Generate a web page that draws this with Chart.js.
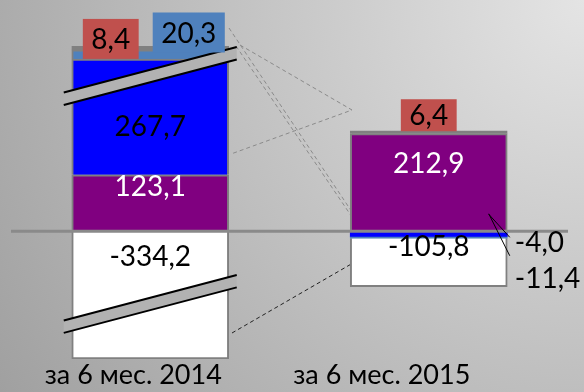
<!DOCTYPE html>
<html>
<head>
<meta charset="utf-8">
<script src="https://cdn.jsdelivr.net/npm/chart.js@4/dist/chart.umd.min.js"></script>
<style>
  html, body { margin: 0; padding: 0; }
  #wrap {
    width: 584px; height: 392px;
    background: radial-gradient(circle farthest-corner at 100% 0%, #e4e4e4 0%, #a0a0a0 100%);
  }
</style>
</head>
<body>
<div id="wrap"><canvas id="myChart" width="584" height="392"></canvas></div>
<script>
var periods = ['за 6 мес. 2014', 'за 6 мес. 2015'];
var purpleVals = [123.1, 212.9];
var blueVals = [267.7, -11.4];
var steelVals = [20.3, -4.0];
var grayVals = [8.4, 6.4];
var whiteVals = [-334.2, -105.8];

// value ranges cut out of the axis (drawn as breaks on the tall bar)
var axisBreaks = [[-214, -159], [339, 354]];
// category captions sit a little left of their columns
var tickShift = [-17, -47];

function squeeze(v) {
    var out = v;
    axisBreaks.forEach(function(b) {
        var lo = b[0], hi = b[1], w = hi - lo;
        if (lo >= 0) {
            if (v >= hi) out -= w;
            else if (v > lo) out -= v - lo;
        } else {
            if (v <= lo) out += w;
            else if (v < hi) out += hi - v;
        }
    });
    return out;
}

function unsqueeze(c) {
    var v = c;
    axisBreaks.forEach(function(b) {
        var lo = b[0], hi = b[1], w = hi - lo;
        if (lo >= 0 && c > lo) v += w;
        if (hi <= 0 && c < hi) v -= w;
    });
    return v;
}

class BrokenLinearScale extends Chart.LinearScale {
    getPixelForValue(value) {
        if (value === null || value === undefined) return NaN;
        var lo = squeeze(this.min), hi = squeeze(this.max);
        return this.getPixelForDecimal((squeeze(value) - lo) / (hi - lo));
    }
    getValueForPixel(pixel) {
        var lo = squeeze(this.min), hi = squeeze(this.max);
        return unsqueeze(lo + this.getDecimalForPixel(pixel) * (hi - lo));
    }
}
BrokenLinearScale.id = 'brokenLinear';

class NudgedCategoryScale extends Chart.CategoryScale {
    getPixelForTick(index) {
        return super.getPixelForTick(index) + (tickShift[index] || 0);
    }
}
NudgedCategoryScale.id = 'nudgedCategory';

Chart.register(BrokenLinearScale, NudgedCategoryScale);

var allSeries = [purpleVals, blueVals, steelVals, grayVals, whiteVals];
var stackTop = periods.map(function(p, i) {
    return allSeries.reduce(function(t, s) { return t + Math.max(s[i], 0); }, 0);
});
var stackBottom = periods.map(function(p, i) {
    return allSeries.reduce(function(t, s) { return t + Math.min(s[i], 0); }, 0);
});

function fmt(v) {
    return v.toFixed(1).replace('.', ',');
}

// where each value text sits, relative to the middle of its segment
var labelSpots = [
    [{ dy: -17, color: '#fff' }, { dy: -19, color: '#fff' }],
    [{ dy: 9 }, { dx: 86, dy: 44, align: 'left', leader: [60, -20, 81, 22] }],
    [{ dx: 38.5, dy: -22, box: '#4F81BD' }, { dx: 86, dy: 5, align: 'left', leader: [60, -23, 81, 0] }],
    [{ dx: -39.5, dy: -9, box: '#C0504D' }, { dy: -17, box: '#C0504D', boxH: 32 }],
    [{ dy: -39 }, { dy: -16 }]
];

var valueLabels = {
    id: 'valueLabels',
    afterDatasetsDraw: function(chart) {
        var ctx = chart.ctx;
        ctx.save();
        ctx.font = '28px Lato';
        ctx.textBaseline = 'middle';
        chart.data.datasets.forEach(function(ds, i) {
            chart.getDatasetMeta(i).data.forEach(function(bar, j) {
                var spot = labelSpots[i][j];
                var cx = bar.x + (spot.dx || 0);
                var cy = (bar.y + bar.base) / 2 + (spot.dy || 0);
                var text = fmt(ds.data[j]);
                var w = ctx.measureText(text).width;
                if (spot.box) {
                    var h = spot.boxH || 40;
                    ctx.fillStyle = spot.box;
                    ctx.fillRect(cx - w / 2 - 8.5, cy - h / 2, w + 17, h);
                }
                if (spot.leader) {
                    var cx0 = bar.x, cy0 = (bar.y + bar.base) / 2;
                    ctx.strokeStyle = '#000';
                    ctx.lineWidth = 1;
                    ctx.beginPath();
                    ctx.moveTo(cx0 + spot.leader[0], cy0 + spot.leader[1]);
                    ctx.lineTo(cx0 + spot.leader[2], cy0 + spot.leader[3]);
                    ctx.stroke();
                }
                ctx.fillStyle = spot.color || '#000';
                ctx.textAlign = spot.align || 'center';
                ctx.fillText(text, cx, cy + 1);
            });
        });
        ctx.restore();
    }
};

// the zero line, laid over the columns
var zeroLine = {
    id: 'zeroLine',
    afterDatasetsDraw: function(chart) {
        var ctx = chart.ctx, area = chart.chartArea;
        var y0 = chart.scales.y.getPixelForValue(0);
        ctx.save();
        ctx.strokeStyle = '#8a8a8a';
        ctx.lineWidth = 3;
        ctx.beginPath();
        ctx.moveTo(area.left, y0);
        ctx.lineTo(area.right, y0);
        ctx.stroke();
        ctx.restore();
    }
};

// slanted double strokes where a bar crosses a cut in the axis
var breakMarks = {
    id: 'breakMarks',
    afterDatasetsDraw: function(chart) {
        var ctx = chart.ctx, y = chart.scales.y;
        var meta = chart.getDatasetMeta(0);
        ctx.save();
        axisBreaks.forEach(function(b) {
            var p = y.getPixelForValue(b[0]);
            meta.data.forEach(function(bar, i) {
                var crosses = b[0] >= 0 ? stackTop[i] > b[1] : stackBottom[i] < b[0];
                if (!crosses) return;
                var x0 = bar.x - bar.width / 2 - 8, x1 = bar.x + bar.width / 2 + 8;
                var half = 6.2, slope = -0.263;
                var y0 = p + slope * (x0 - bar.x), y1 = p + slope * (x1 - bar.x);
                ctx.fillStyle = '#b2b2b2';
                ctx.beginPath();
                ctx.moveTo(x0, y0 - half);
                ctx.lineTo(x1, y1 - half);
                ctx.lineTo(x1, y1 + half);
                ctx.lineTo(x0, y0 + half);
                ctx.closePath();
                ctx.fill();
                ctx.strokeStyle = '#000';
                ctx.lineWidth = 2;
                ctx.beginPath();
                ctx.moveTo(x0, y0 - half);
                ctx.lineTo(x1, y1 - half);
                ctx.moveTo(x0, y0 + half);
                ctx.lineTo(x1, y1 + half);
                ctx.stroke();
            });
        });
        ctx.restore();
    }
};

// dashed guides between the two columns
var guides = [
    { dash: '#8a8a8a', pts: [[240, 45], [352, 110], [231, 154]] },
    { dash: '#8a8a8a', pts: [[229, 28], [352, 212]] },
    { dash: '#8a8a8a', pts: [[236, 46], [352, 217]] },
    { dash: '#222', pts: [[232, 333], [353, 263]] }
];

var guideLines = {
    id: 'guideLines',
    beforeDatasetsDraw: function(chart) {
        var ctx = chart.ctx;
        ctx.save();
        ctx.lineWidth = 1;
        ctx.setLineDash([4, 3]);
        guides.forEach(function(g) {
            ctx.strokeStyle = g.dash;
            ctx.beginPath();
            g.pts.forEach(function(pt, k) {
                if (k === 0) ctx.moveTo(pt[0], pt[1]);
                else ctx.lineTo(pt[0], pt[1]);
            });
            ctx.stroke();
        });
        ctx.restore();
    }
};

function noBorderBelowZero(c) {
    return c.raw < 0 ? 0 : 2;
}

var config = {
    type: 'bar',
    data: {
        labels: periods,
        datasets: [
            { label: 'purple', data: purpleVals, backgroundColor: '#800080' },
            { label: 'blue', data: blueVals, backgroundColor: '#0000FF', borderWidth: noBorderBelowZero },
            { label: 'steel', data: steelVals, backgroundColor: '#4F81BD', borderWidth: noBorderBelowZero },
            { label: 'gray', data: grayVals, backgroundColor: '#808080' },
            { label: 'white', data: whiteVals, backgroundColor: '#FFFFFF' }
        ]
    },
    options: {
        responsive: false,
        animation: false,
        events: [],
        layout: { padding: { top: 46, left: 11, right: 16, bottom: 0 } },
        datasets: {
            bar: {
                borderColor: '#808080',
                borderWidth: 2,
                borderSkipped: 'start',
                barThickness: 157
            }
        },
        plugins: {
            legend: { display: false },
            tooltip: { enabled: false }
        },
        scales: {
            x: {
                type: 'nudgedCategory',
                stacked: true,
                grid: { display: false, drawTicks: false },
                border: { display: false },
                ticks: { color: '#000', padding: 1, font: { family: 'Lato', size: 27, lineHeight: 1.15 } }
            },
            y: {
                type: 'brokenLinear',
                display: false,
                stacked: true,
                min: Math.min.apply(null, stackBottom),
                max: Math.max.apply(null, stackTop)
            }
        }
    },
    plugins: [guideLines, zeroLine, breakMarks, valueLabels]
};

var myChart = new Chart(document.getElementById('myChart').getContext('2d'), config);
</script>
</body>
</html>
